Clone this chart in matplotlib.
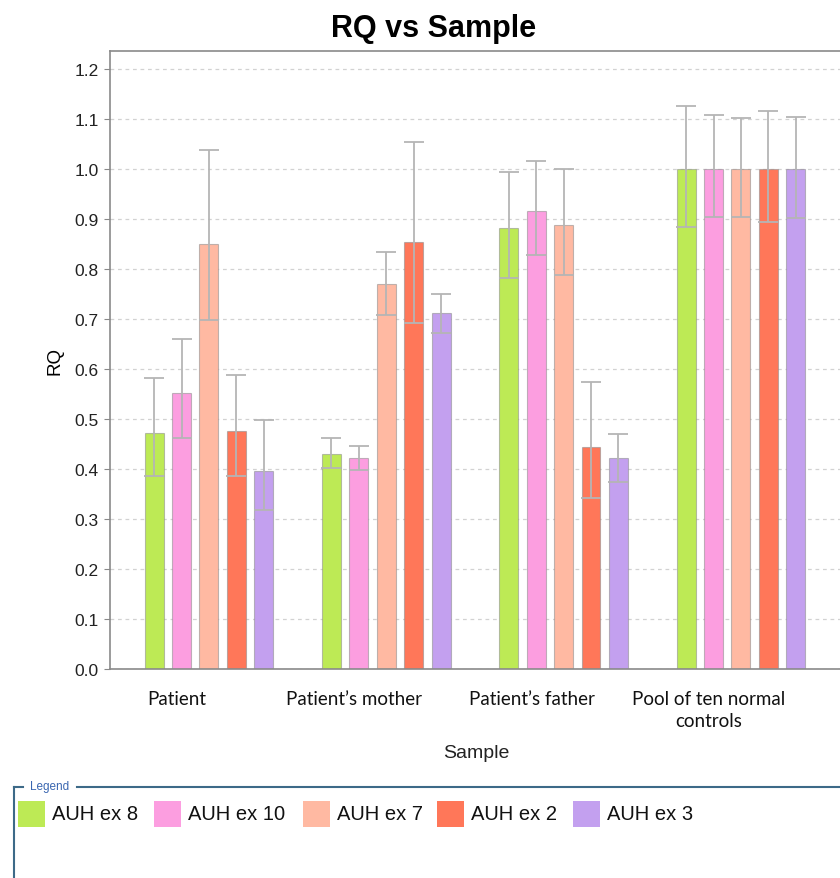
import matplotlib
matplotlib.use('Agg')
import matplotlib.pyplot as plt
import numpy as np
from matplotlib.patches import Rectangle
from matplotlib.lines import Line2D

# data
samples = ['Patient', 'Patient\u2019s mother', 'Patient\u2019s father', 'Pool of ten normal\ncontrols']
series = ['AUH ex 8', 'AUH ex 10', 'AUH ex 7', 'AUH ex 2', 'AUH ex 3']
colors = ['#bdea55', '#fc9ee0', '#ffb9a2', '#ff7759', '#c3a0ef']

# RQ per sample, one list per series
rq_ex8 = [0.473, 0.430, 0.882, 1.0]
rq_ex10 = [0.553, 0.422, 0.916, 1.0]
rq_ex7 = [0.851, 0.771, 0.888, 1.0]
rq_ex2 = [0.476, 0.855, 0.444, 1.0]
rq_ex3 = [0.396, 0.712, 0.422, 1.0]

# lower / upper end of the error bars
lo_ex8 = [0.386, 0.402, 0.782, 0.884]
hi_ex8 = [0.582, 0.462, 0.994, 1.126]
lo_ex10 = [0.462, 0.398, 0.828, 0.904]
hi_ex10 = [0.660, 0.446, 1.016, 1.108]
lo_ex7 = [0.698, 0.708, 0.788, 0.904]
hi_ex7 = [1.038, 0.834, 1.000, 1.102]
lo_ex2 = [0.386, 0.692, 0.342, 0.894]
hi_ex2 = [0.588, 1.054, 0.574, 1.116]
lo_ex3 = [0.318, 0.672, 0.374, 0.902]
hi_ex3 = [0.498, 0.750, 0.470, 1.104]

rq = [rq_ex8, rq_ex10, rq_ex7, rq_ex2, rq_ex3]
lows = [lo_ex8, lo_ex10, lo_ex7, lo_ex2, lo_ex3]
highs = [hi_ex8, hi_ex10, hi_ex7, hi_ex2, hi_ex3]

yticks = [0.0, 0.1, 0.2, 0.3, 0.4, 0.5, 0.6, 0.7, 0.8, 0.9, 1.0, 1.1, 1.2]

W, H = 840, 879
fig = plt.figure(figsize=(W/100, H/100), dpi=100)
ax = fig.add_axes([110/W, 1 - 670/H, 732/W, 618/H])

x = np.arange(len(samples))
step = 0.1545
width = 0.107
for i in range(len(series)):
    pos = x + (i - 2)*step
    vals = np.array(rq[i])
    err = [vals - np.array(lows[i]), np.array(highs[i]) - vals]
    ax.bar(pos, vals, width, color=colors[i], edgecolor=(0.55, 0.55, 0.55, 0.55),
           linewidth=0.8, zorder=2)
    ax.errorbar(pos, vals, yerr=err, fmt='none', ecolor='#b5b5b5', elinewidth=1.3,
                capsize=7, capthick=1.3, zorder=3)

ax.set_xlim(-0.558, 3.57)
ax.set_ylim(0, 1.236)
ax.set_yticks(yticks)
ax.set_yticklabels(['%.1f' % v for v in yticks], fontsize=12.5, family='Liberation Sans',
                   color='#222222')
ax.tick_params(axis='y', length=4, color='#888888', pad=4)

# sample labels sit a bit left of the group centres
ax.set_xticks(x - 0.18)
ax.set_xticklabels(samples, fontsize=13.5, family='Lato', color='#111111', linespacing=1.4)
ax.tick_params(axis='x', length=0, pad=15)

ax.grid(axis='y', color='#d2d2d2', linestyle=(0, (3, 3)), linewidth=0.9, zorder=0)
ax.set_axisbelow(True)
for s in ['left', 'bottom', 'top']:
    ax.spines[s].set_color('#8a8a8a')
    ax.spines[s].set_linewidth(1.2)
ax.spines['right'].set_visible(False)

ax.set_ylabel('RQ', fontsize=13.5, family='Liberation Sans', labelpad=8)

fig.text(434/W, 1 - 29/H, 'RQ vs Sample', fontsize=22, fontweight='bold',
         family='Liberation Sans', ha='center', va='center')
fig.text(476/W, 1 - 754/H, 'Sample', fontsize=14, family='Liberation Sans',
         ha='center', va='center', color='#222222')

# legend panel at the bottom
box_col = '#3d6a88'
fig.add_artist(Line2D([14/W, 14/W], [1 - 788/H, 0], transform=fig.transFigure, color=box_col, lw=1.5))
fig.add_artist(Line2D([14/W, 23/W], [1 - 788/H, 1 - 788/H], transform=fig.transFigure, color=box_col, lw=1.5))
fig.add_artist(Line2D([77/W, 1.0], [1 - 788/H, 1 - 788/H], transform=fig.transFigure, color=box_col, lw=1.5))
fig.text(50/W, 1 - 787/H, 'Legend', fontsize=8.5, family='Liberation Sans', color='#3a66b0',
         ha='center', va='center')

leg_x = [18, 154, 303, 437, 573]
for i in range(len(series)):
    fig.add_artist(Rectangle((leg_x[i]/W, 1 - 828/H), 27/W, 26/H, transform=fig.transFigure,
                             facecolor=colors[i], edgecolor='none'))
    fig.text((leg_x[i] + 34)/W, 1 - 815/H, series[i], fontsize=14.5, family='Liberation Sans',
             ha='left', va='center', color='#111111')

plt.savefig('out.png', dpi=100)
